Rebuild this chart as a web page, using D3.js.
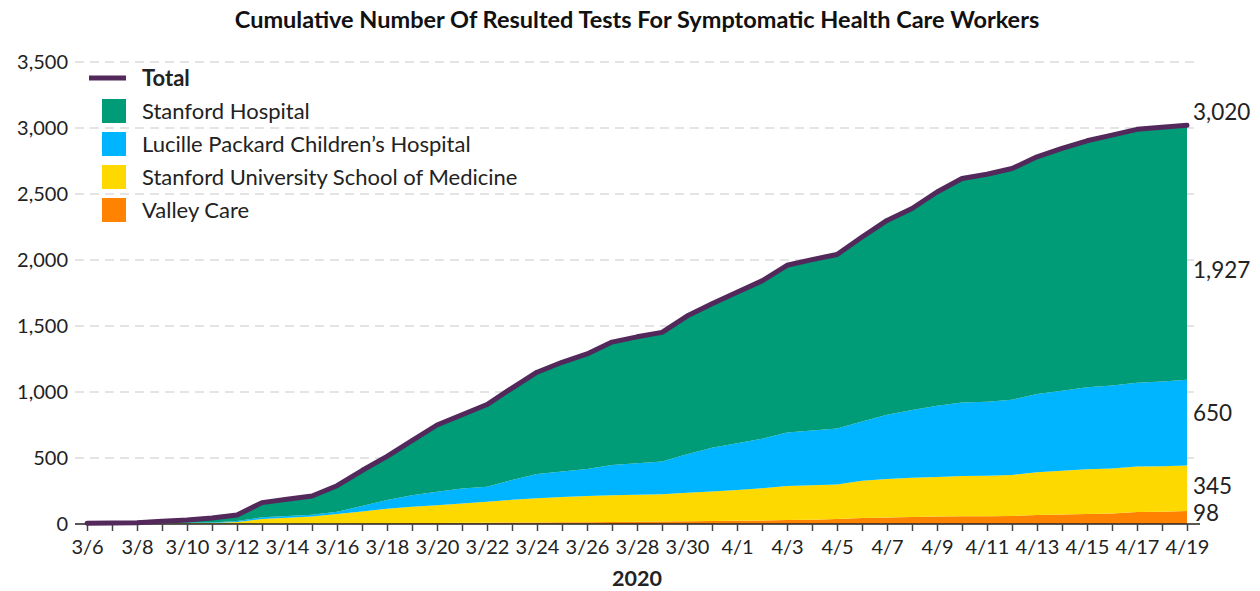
<!DOCTYPE html>

<!-- Load d3.js -->
<script src="https://d3js.org/d3.v7.min.js"></script>

<style>
    html, body {
        margin: 0;
        background-color: white;
    }
    text {
        font-family: Lato, "Open Sans", sans-serif;
        fill: #222;
    }
    .grid line {
        stroke: #dcdcdc;
        stroke-width: 1.5;
        stroke-dasharray: 9 6;
    }
</style>

<body></body>

<script>

    // DATA
    const dates = ["3/6","3/7","3/8","3/9","3/10","3/11","3/12","3/13","3/14","3/15",
        "3/16","3/17","3/18","3/19","3/20","3/21","3/22","3/23","3/24","3/25",
        "3/26","3/27","3/28","3/29","3/30","3/31","4/1","4/2","4/3","4/4",
        "4/5","4/6","4/7","4/8","4/9","4/10","4/11","4/12","4/13","4/14",
        "4/15","4/16","4/17","4/18","4/19"];

    const valleyCare = [0,0,0,0,0,0,0,1,2,3,
        4,5,6,7,8,9,10,11,12,13,
        14,15,17,18,20,22,25,27,30,33,
        37,46,50,53,56,58,59,61,68,72,
        76,80,91,93,98];

    const schoolOfMedicine = [2,3,4,5,6,8,15,37,46,53,
        72,90,109,124,134,147,159,172,183,191,
        199,203,204,208,217,225,232,243,258,260,
        263,281,290,297,301,306,307,311,324,332,
        338,340,344,345,345];

    const lucillePackard = [1,1,1,2,3,4,7,13,13,14,
        17,41,67,87,103,112,114,150,183,194,
        204,229,239,247,291,331,355,375,406,415,
        424,450,488,513,539,557,561,570,593,606,
        622,630,635,642,650];

    const stanfordHospital = [3,4,5,13,21,33,46,111,126,142,
        197,269,330,414,505,560,622,697,772,827,
        871,931,958,979,1047,1090,1144,1197,1266,1295,
        1318,1397,1472,1527,1619,1696,1723,1751,1797,1835,
        1867,1896,1920,1926,1927];

    const yTicks = [0, 500, 1000, 1500, 2000, 2500, 3000, 3500];

    const seriesNames = ["Valley Care", "Stanford University School of Medicine",
        "Lucille Packard Children\u2019s Hospital", "Stanford Hospital"];
    const seriesColors = ["#ff8200", "#fdd900", "#00b5ff", "#009b77"];
    const totalColor = "#53295c";

    // DESIGN CONSTANTS
    const width = 1260;
    const height = 591;
    const margin = {left: 87, right: 73, top: 62, bottom: 67};

    const svg = d3.select("body").append("svg")
        .attr("width", width)
        .attr("height", height);

    // build rows for the stack
    const keys = ["valley", "som", "lpch", "shc"];
    const rows = dates.map((d, i) => ({
        date: d,
        valley: valleyCare[i],
        som: schoolOfMedicine[i],
        lpch: lucillePackard[i],
        shc: stanfordHospital[i]
    }));
    const totals = rows.map(r => r.valley + r.som + r.lpch + r.shc);

    const x = d3.scalePoint()
        .domain(dates)
        .range([margin.left, width - margin.right]);

    const y = d3.scaleLinear()
        .domain([0, 3500])
        .range([height - margin.bottom, margin.top]);

    // Title
    svg.append("text")
        .attr("x", 637)
        .attr("y", 28)
        .attr("text-anchor", "middle")
        .style("font-weight", "bold")
        .style("font-size", "23.5px")
        .style("fill", "#111")
        .text("Cumulative Number Of Resulted Tests For Symptomatic Health Care Workers");

    // Gridlines
    svg.append("g")
        .attr("class", "grid")
        .selectAll("line")
        .data(yTicks.filter(t => t > 0))
        .join("line")
        .attr("x1", 75)
        .attr("x2", 1200)
        .attr("y1", d => y(d))
        .attr("y2", d => y(d));

    // Y tick labels
    svg.append("g")
        .selectAll("text")
        .data(yTicks)
        .join("text")
        .attr("x", 68)
        .attr("y", d => y(d))
        .attr("dy", "0.35em")
        .attr("text-anchor", "end")
        .style("font-size", "20px")
        .text(d => d3.format(",")(d));

    // Stacked areas
    const stack = d3.stack().keys(keys);
    const layers = stack(rows);

    const area = d3.area()
        .x(d => x(d.data.date))
        .y0(d => y(d[0]))
        .y1(d => y(d[1]));

    svg.append("g")
        .selectAll("path")
        .data(layers)
        .join("path")
        .attr("fill", (d, i) => seriesColors[i])
        .attr("d", area);

    // X axis
    const xAxis = d3.axisBottom(x)
        .tickSize(7)
        .tickPadding(9)
        .tickFormat((d, i) => i % 2 === 0 ? d : "");

    const gx = svg.append("g")
        .attr("transform", `translate(0 ${y(0)})`)
        .call(xAxis);
    gx.select(".domain")
        .attr("d", `M75,0H1200`)
        .attr("stroke", "#222")
        .attr("stroke-width", 1.5);
    gx.selectAll(".tick line")
        .attr("stroke", "#444")
        .attr("stroke-width", 1.5);
    gx.selectAll(".tick text")
        .style("font-size", "20px")
        .style("font-family", "Lato, sans-serif")
        .attr("fill", "#222");

    svg.append("text")
        .attr("x", 637)
        .attr("y", 586)
        .attr("text-anchor", "middle")
        .style("font-weight", "bold")
        .style("font-size", "21.5px")
        .text("2020");

    // Total line
    const line = d3.line()
        .x((d, i) => x(dates[i]))
        .y(d => y(d));

    svg.append("path")
        .datum(totals)
        .attr("fill", "none")
        .attr("stroke", totalColor)
        .attr("stroke-width", 5)
        .attr("stroke-linejoin", "round")
        .attr("stroke-linecap", "round")
        .attr("d", line);

    // End labels
    const last = dates.length - 1;
    const lastX = x(dates[last]) + 6;
    const lastTotal = totals[last];
    const endValues = [valleyCare[last], schoolOfMedicine[last], lucillePackard[last], stanfordHospital[last]];
    const layerTop = layers.map(l => l[last]);

    const labelY = [
        Math.min(y((layerTop[0][0] + layerTop[0][1]) / 2), y((layerTop[1][0] + layerTop[1][1]) / 2) + 25),
        y((layerTop[1][0] + layerTop[1][1]) / 2) - 2,
        y((layerTop[2][0] + layerTop[2][1]) / 2) - 9,
        y(endValues[3])
    ];

    svg.append("g")
        .selectAll("text")
        .data(endValues)
        .join("text")
        .attr("x", lastX)
        .attr("y", (d, i) => labelY[i])
        .attr("dy", "0.35em")
        .style("font-size", "22.5px")
        .text(d => d3.format(",")(d));

    svg.append("text")
        .attr("x", lastX)
        .attr("y", y(lastTotal) - 13)
        .attr("dy", "0.35em")
        .style("font-size", "22.5px")
        .text(d3.format(",")(lastTotal));

    // Legend
    const legend = svg.append("g");
    legend.append("line")
        .attr("x1", 89).attr("x2", 126)
        .attr("y1", 78).attr("y2", 78)
        .attr("stroke", totalColor)
        .attr("stroke-width", 5);
    legend.append("text")
        .attr("x", 142).attr("y", 78)
        .attr("dy", "0.35em")
        .style("font-size", "22px")
        .style("font-weight", "bold")
        .text("Total");

    const legendItems = d3.range(seriesNames.length).reverse();
    legendItems.forEach((k, j) => {
        const yy = 111 + j * 33;
        legend.append("rect")
            .attr("x", 102).attr("y", yy - 12)
            .attr("width", 24).attr("height", 24)
            .attr("fill", seriesColors[k]);
        legend.append("text")
            .attr("x", 142).attr("y", yy)
            .attr("dy", "0.35em")
            .style("font-size", "22px")
            .text(seriesNames[k]);
    });

</script>
